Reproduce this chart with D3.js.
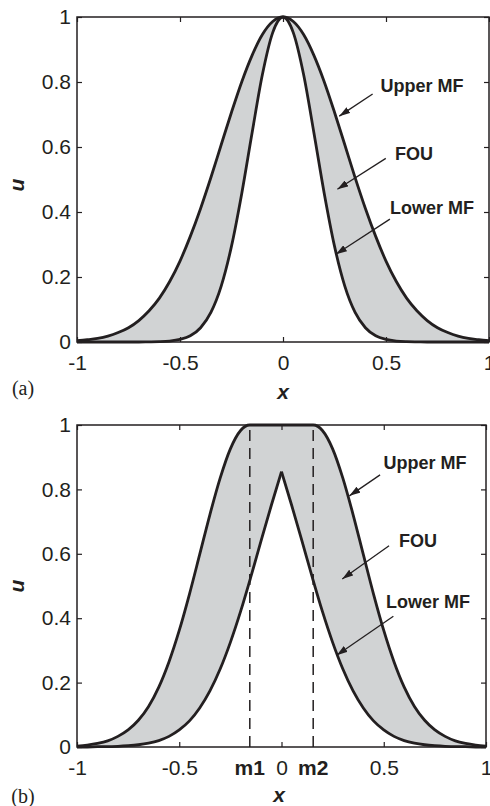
<!DOCTYPE html>
<html lang="en">
<head>
<meta charset="utf-8">
<title>Upper and lower MFs with FOU</title>
<script src="https://cdn.jsdelivr.net/npm/d3@7"></script>
<style>
  body { margin: 0; background: #fff; }
  .axis path { display: none; }
  .axis line { stroke: #231f20; stroke-width: 1.2; }
  .axis text {
    font-family: "Liberation Sans", Arial, sans-serif;
    font-size: 21px;
    fill: #231f20;
  }
  .note {
    font-family: "Liberation Sans", Arial, sans-serif;
    font-size: 18px;
    font-weight: bold;
    fill: #231f20;
  }
  .mlabel {
    font-family: "Liberation Sans", Arial, sans-serif;
    font-size: 21px;
    font-weight: bold;
    fill: #231f20;
  }
  .axlabel {
    font-family: "Liberation Sans", Arial, sans-serif;
    font-size: 21px;
    font-weight: bold;
    font-style: italic;
    fill: #231f20;
  }
  .tag {
    font-family: "Liberation Serif", "Times New Roman", serif;
    font-size: 20px;
    fill: #231f20;
  }
</style>
</head>
<body>
<script>

// ---- data ----
var xTicks = [-1, -0.5, 0, 0.5, 1];
var xTickLabels = ["-1", "-0.5", "0", "0.5", "1"];
var yTicks = [0, 0.2, 0.4, 0.6, 0.8, 1];
var yTickLabels = ["0", "0.2", "0.4", "0.6", "0.8", "1"];

// (a) Gaussian MF with uncertain width
var gridX = [-1, -0.95, -0.9, -0.85, -0.8, -0.75, -0.7, -0.65, -0.6, -0.55, -0.5,
             -0.45, -0.4, -0.35, -0.3, -0.25, -0.2, -0.15, -0.1, -0.05, 0,
             0.05, 0.1, 0.15, 0.2, 0.25, 0.3, 0.35, 0.4, 0.45, 0.5,
             0.55, 0.6, 0.65, 0.7, 0.75, 0.8, 0.85, 0.9, 0.95, 1];
var upperA = [0.004, 0.007, 0.011, 0.018, 0.029, 0.044, 0.066, 0.096, 0.135, 0.186, 0.249,
              0.325, 0.411, 0.506, 0.607, 0.707, 0.801, 0.882, 0.946, 0.986, 1,
              0.986, 0.946, 0.882, 0.801, 0.707, 0.607, 0.506, 0.411, 0.325, 0.249,
              0.186, 0.135, 0.096, 0.066, 0.044, 0.029, 0.018, 0.011, 0.007, 0.004];
var lowerA = [0, 0, 0, 0, 0, 0, 0, 0.0003, 0.001, 0.003, 0.008,
              0.019, 0.044, 0.091, 0.172, 0.295, 0.458, 0.644, 0.823, 0.952, 1,
              0.952, 0.823, 0.644, 0.458, 0.295, 0.172, 0.091, 0.044, 0.019, 0.008,
              0.003, 0.001, 0.0003, 0, 0, 0, 0, 0, 0, 0];

// (b) Gaussian MF with uncertain mean, m1 .. m2
var m1 = -0.155, m2 = 0.155;
var upperBX = [-1, -0.95, -0.9, -0.85, -0.8, -0.75, -0.7, -0.65, -0.6, -0.55, -0.5,
               -0.45, -0.4, -0.35, -0.3, -0.25, -0.2, m1, m2, 0.2, 0.25, 0.3, 0.35,
               0.4, 0.45, 0.5, 0.55, 0.6, 0.65, 0.7, 0.75, 0.8, 0.85, 0.9, 0.95, 1];
var upperB = [0.003, 0.006, 0.011, 0.019, 0.033, 0.053, 0.083, 0.126, 0.186, 0.265, 0.362,
              0.475, 0.598, 0.722, 0.835, 0.926, 0.983, 1, 1, 0.983, 0.926, 0.835, 0.722,
              0.598, 0.475, 0.362, 0.265, 0.186, 0.126, 0.083, 0.053, 0.033, 0.019, 0.011, 0.006, 0.003];
var lowerB = [0, 0, 0.001, 0.001, 0.002, 0.004, 0.007, 0.012, 0.020, 0.033, 0.053,
              0.081, 0.121, 0.174, 0.242, 0.325, 0.421, 0.528, 0.640, 0.750, 0.855,
              0.750, 0.640, 0.528, 0.421, 0.325, 0.242, 0.174, 0.121, 0.081, 0.053,
              0.033, 0.020, 0.012, 0.007, 0.004, 0.002, 0.001, 0.001, 0, 0];

// annotations: label, text centre, arrow start, arrow tip (data units)
var notesA = [
  {label: "Upper MF", tx: 0.675, tu: 0.788, sx: 0.435, su: 0.763, ex: 0.273, eu: 0.695},
  {label: "FOU",      tx: 0.636, tu: 0.578, sx: 0.499, su: 0.565, ex: 0.264, eu: 0.470},
  {label: "Lower MF", tx: 0.723, tu: 0.412, sx: 0.519, su: 0.378, ex: 0.257, eu: 0.270}
];
var notesB = [
  {label: "Upper MF", tx: 0.702, tu: 0.882, sx: 0.482, su: 0.845, ex: 0.332, eu: 0.780},
  {label: "FOU",      tx: 0.667, tu: 0.640, sx: 0.526, su: 0.625, ex: 0.297, eu: 0.522},
  {label: "Lower MF", tx: 0.716, tu: 0.450, sx: 0.547, su: 0.406, ex: 0.270, eu: 0.285}
];

// ---- drawing ----
var w = 490, h = 806;
var ink = "#231f20";
var grey = "#d1d3d4";

var svg = d3.select("body")
            .append("svg")
            .attr("width", w)
            .attr("height", h);

svg.append("defs")
   .append("marker")
   .attr("id", "head")
   .attr("markerUnits", "userSpaceOnUse")
   .attr("markerWidth", 11)
   .attr("markerHeight", 7)
   .attr("refX", 11)
   .attr("refY", 3.5)
   .attr("orient", "auto")
   .append("path")
   .attr("d", "M0,0L11,3.5L0,7Z")
   .attr("fill", ink);

function drawPanel(p) {
  var g = svg.append("g");

  var xScale = d3.scaleLinear().domain([-1, 1]).range([p.left, p.right]);
  var yScale = d3.scaleLinear().domain([0, 1]).range([p.bottom, p.top]);

  var upperPts = d3.zip(p.upperX, p.upper);
  var lowerPts = d3.zip(p.lowerX, p.lower);

  // lower curve may have a sharp peak, so split it there
  var lowerSegs = [lowerPts];
  if (p.cusp) {
    var k = d3.maxIndex(p.lower);
    lowerSegs = [lowerPts.slice(0, k + 1), lowerPts.slice(k)];
  }

  var area = d3.area()
               .x(function(d) { return xScale(d[0]); })
               .y0(yScale(0))
               .y1(function(d) { return yScale(d[1]); })
               .curve(d3.curveMonotoneX);

  var line = d3.line()
               .x(function(d) { return xScale(d[0]); })
               .y(function(d) { return yScale(d[1]); })
               .curve(d3.curveMonotoneX);

  // FOU = grey under the upper MF, cleared again under the lower MF
  g.append("path").datum(upperPts).attr("d", area).attr("fill", grey);
  lowerSegs.forEach(function(s) {
    g.append("path").datum(s).attr("d", area)
     .attr("fill", "#fff")
     .attr("stroke", "#fff")
     .attr("stroke-width", 1);
  });

  // axes, ticks pointing inwards on all four sides
  g.append("g")
   .attr("class", "axis")
   .attr("transform", "translate(0," + p.bottom + ")")
   .call(d3.axisBottom(xScale).tickValues(xTicks)
           .tickFormat(function(d, i) { return xTickLabels[i]; })
           .tickSizeInner(-5).tickSizeOuter(0).tickPadding(13));
  g.append("g")
   .attr("class", "axis")
   .attr("transform", "translate(0," + p.top + ")")
   .call(d3.axisTop(xScale).tickValues(xTicks).tickFormat("")
           .tickSizeInner(-5).tickSizeOuter(0));
  g.append("g")
   .attr("class", "axis")
   .attr("transform", "translate(" + p.left + ",0)")
   .call(d3.axisLeft(yScale).tickValues(yTicks)
           .tickFormat(function(d, i) { return yTickLabels[i]; })
           .tickSizeInner(-5).tickSizeOuter(0).tickPadding(6));
  g.append("g")
   .attr("class", "axis")
   .attr("transform", "translate(" + p.right + ",0)")
   .call(d3.axisRight(yScale).tickValues(yTicks).tickFormat("")
           .tickSizeInner(-5).tickSizeOuter(0));

  g.append("rect")
   .attr("x", p.left)
   .attr("y", p.top)
   .attr("width", p.right - p.left)
   .attr("height", p.bottom - p.top)
   .attr("fill", "none")
   .attr("stroke", ink)
   .attr("stroke-width", 1.5);

  // m1 / m2 dashed markers
  if (p.marks) {
    p.marks.forEach(function(m, i) {
      g.append("line")
       .attr("x1", xScale(m)).attr("x2", xScale(m))
       .attr("y1", yScale(0)).attr("y2", yScale(1))
       .attr("stroke", ink)
       .attr("stroke-width", 1.5)
       .attr("stroke-dasharray", "11,7");
      g.append("text")
       .attr("class", "mlabel")
       .attr("x", xScale(m))
       .attr("y", p.bottom + 13)
       .attr("dy", "0.71em")
       .attr("text-anchor", "middle")
       .text(p.markLabels[i]);
    });
  }

  // the two MF curves
  g.append("path").datum(upperPts).attr("d", line)
   .attr("fill", "none").attr("stroke", ink).attr("stroke-width", 2.8)
   .attr("stroke-linejoin", "round");
  lowerSegs.forEach(function(s) {
    g.append("path").datum(s).attr("d", line)
     .attr("fill", "none").attr("stroke", ink).attr("stroke-width", 2.8)
     .attr("stroke-linejoin", "round");
  });

  // annotations
  p.notes.forEach(function(n) {
    g.append("line")
     .attr("x1", xScale(n.sx)).attr("y1", yScale(n.su))
     .attr("x2", xScale(n.ex)).attr("y2", yScale(n.eu))
     .attr("stroke", ink)
     .attr("stroke-width", 1.3)
     .attr("marker-end", "url(#head)");
    g.append("text")
     .attr("class", "note")
     .attr("x", xScale(n.tx))
     .attr("y", yScale(n.tu))
     .attr("dy", "0.35em")
     .attr("text-anchor", "middle")
     .text(n.label);
  });

  // axis titles and panel tag
  g.append("text")
   .attr("class", "axlabel")
   .attr("transform", "translate(" + 24 + "," + p.uY + ") rotate(-90)")
   .attr("text-anchor", "middle")
   .text("u");
  g.append("text")
   .attr("class", "axlabel")
   .attr("x", p.xLabelX)
   .attr("y", p.xLabelY)
   .attr("dy", "0.35em")
   .attr("text-anchor", "middle")
   .text("x");
  g.append("text")
   .attr("class", "tag")
   .attr("x", 23)
   .attr("y", p.tagY)
   .attr("dy", "0.35em")
   .attr("text-anchor", "middle")
   .text(p.tag);
}

drawPanel({
  left: 77, right: 489, top: 17, bottom: 342,
  upperX: gridX, upper: upperA, lowerX: gridX, lower: lowerA,
  cusp: false, notes: notesA,
  uY: 185, xLabelX: 283, xLabelY: 392, tagY: 388, tag: "(a)"
});

drawPanel({
  left: 77, right: 486, top: 425, bottom: 747,
  upperX: upperBX, upper: upperB, lowerX: gridX, lower: lowerB,
  cusp: true, notes: notesB,
  marks: [m1, m2], markLabels: ["m1", "m2"],
  uY: 586, xLabelX: 279, xLabelY: 795, tagY: 796, tag: "(b)"
});

</script>
</body>
</html>
